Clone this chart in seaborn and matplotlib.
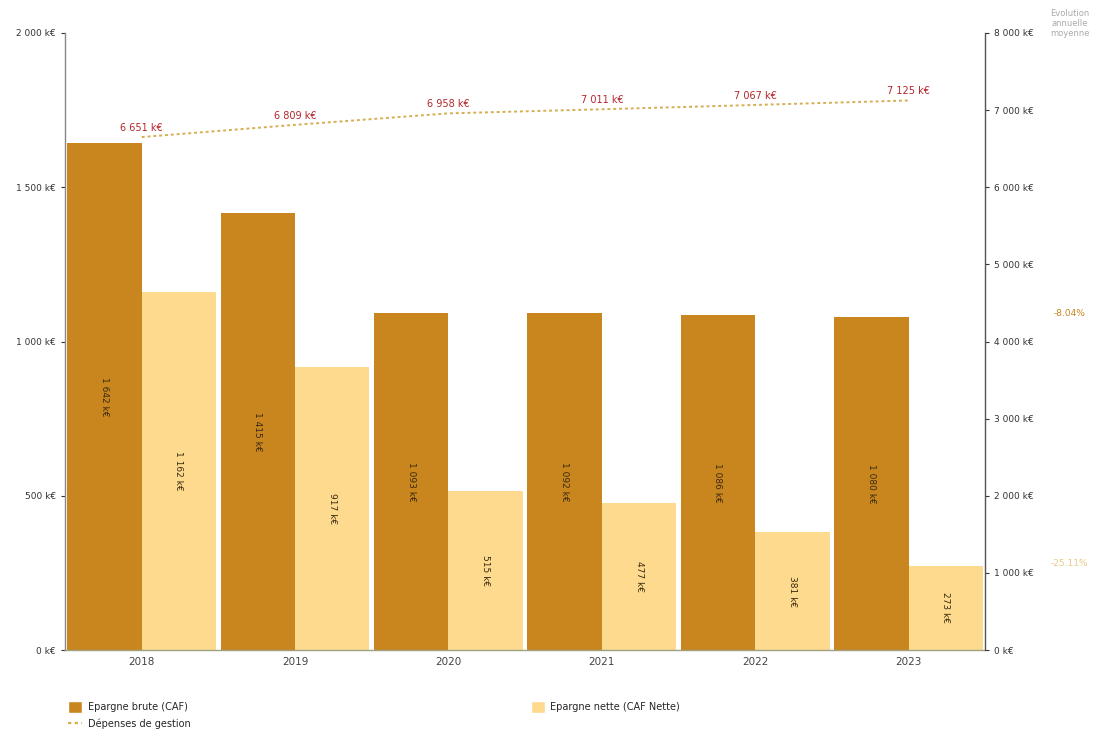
import matplotlib
matplotlib.use("Agg")
import matplotlib.pyplot as plt
import matplotlib.ticker as mticker
from matplotlib.patches import Patch
from matplotlib.lines import Line2D
import seaborn as sns
import pandas as pd
import numpy as np

years = ["2018", "2019", "2020", "2021", "2022", "2023"]
epargne_brute = [1642, 1415, 1093, 1092, 1086, 1080]
epargne_nette = [1162, 917, 515, 477, 381, 273]
depenses_gestion = [6651, 6809, 6958, 7011, 7067, 7125]
evolution_labels = ["-8.04%", "-25.11%"]

c_brute = "#C9861F"
c_nette = "#FDDA8E"
c_line = "#D6AE52"
c_lbl = "#B3262B"

sns.set_theme(style="white")
plt.rcParams["font.family"] = ["DejaVu Sans"]

def fmt_k(v, pos=None):
    return f"{int(round(v)):,}".replace(",", " ") + " k€"

df = pd.DataFrame({
    "Année": years * 2,
    "Valeur": epargne_brute + epargne_nette,
    "Série": ["Epargne brute (CAF)"] * len(years) + ["Epargne nette (CAF Nette)"] * len(years),
})

fig = plt.figure(figsize=(11.12, 7.38), dpi=100)
ax = fig.add_axes([0.0585, 0.1192, 0.8275, 0.8361])

sns.barplot(data=df, x="Année", y="Valeur", hue="Série",
            palette=[c_brute, c_nette], width=0.97, gap=0,
            saturation=1, legend=False, ax=ax, errorbar=None,
            linewidth=0, edgecolor="none")
ax.set_ylim(0, 2000)
ax.set_yticks([0, 500, 1000, 1500, 2000])
ax.yaxis.set_major_formatter(mticker.FuncFormatter(fmt_k))
ax.set_xlabel("")
ax.set_ylabel("")
ax.tick_params(axis="y", labelsize=6.5, colors="#333333", length=3, width=0.8)
ax.tick_params(axis="x", labelsize=7.5, colors="#444444", length=0, pad=5)
ax.spines["top"].set_visible(False)
ax.spines["left"].set_color("#888888")
ax.spines["left"].set_linewidth(1.0)
ax.spines["bottom"].set_color("#A0A080")
ax.spines["bottom"].set_linewidth(1.0)
ax.spines["right"].set_visible(False)

# value labels inside bars
for cont in ax.containers:
    labels = [fmt_k(b.get_height()) for b in cont]
    ax.bar_label(cont, labels=labels, label_type="center", rotation=270,
                 fontsize=6.5, color="#3A2A10")

ax2 = ax.twinx()
sns.pointplot(x=years, y=depenses_gestion, ax=ax2, color=c_line,
              linestyles=(0, (1.5, 1.5)), markers="", linewidth=1.4, errorbar=None)
ax2.set_ylim(0, 8000)
ax2.set_yticks(range(0, 8001, 1000))
ax2.yaxis.set_major_formatter(mticker.FuncFormatter(fmt_k))
ax2.tick_params(axis="y", labelsize=6.5, colors="#333333", length=3, width=0.8)
ax2.spines["top"].set_visible(False)
ax2.spines["left"].set_visible(False)
ax2.spines["bottom"].set_visible(False)
ax2.spines["right"].set_color("#555555")
ax2.spines["right"].set_linewidth(1.0)
ax2.set_ylabel("")
for i, v in enumerate(depenses_gestion):
    ax2.annotate(fmt_k(v), (i, v), xytext=(0, 3), textcoords="offset points",
                 ha="center", va="bottom", fontsize=7, color=c_lbl)
ax.set_xlim(-0.5, len(years) - 0.5)
ax2.set_xlim(-0.5, len(years) - 0.5)

# average annual evolution
fig.text(0.962, 0.988, "Evolution\nannuelle\nmoyenne", ha="center", va="top",
         fontsize=6, color="#AAAAAA", linespacing=1.15)
fig.text(0.962, 1 - 313 / 738, evolution_labels[0], ha="center", va="center",
         fontsize=6.5, color=c_brute)
fig.text(0.962, 1 - 563 / 738, evolution_labels[1], ha="center", va="center",
         fontsize=6.5, color="#E9C98A")

# legends
h1 = [Patch(facecolor=c_brute, label="Epargne brute (CAF)"),
      Line2D([0], [0], color=c_line, linestyle=(0, (1.5, 1.5)), lw=1.6,
             label="Dépenses de gestion")]
h2 = [Patch(facecolor=c_nette, label="Epargne nette (CAF Nette)")]
fig.legend(handles=h1, loc="upper left", bbox_to_anchor=(0.058, 0.055),
           frameon=False, fontsize=7, handlelength=1.4, handleheight=1.4,
           labelspacing=0.6, borderaxespad=0, handletextpad=0.6)
fig.legend(handles=h2, loc="upper left", bbox_to_anchor=(0.474, 0.055),
           frameon=False, fontsize=7, handlelength=1.4, handleheight=1.4,
           borderaxespad=0, handletextpad=0.6)

fig.savefig("out.png", dpi=100)
